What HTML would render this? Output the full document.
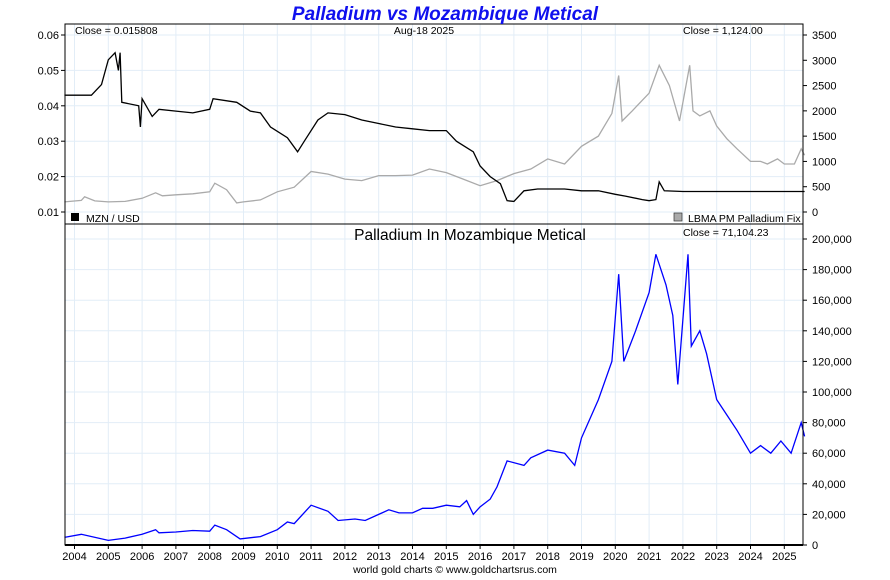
<!DOCTYPE html>
<html><head><meta charset="utf-8"><style>
body{margin:0;background:#fff;font-family:"Liberation Sans",sans-serif}
svg text{font-family:"Liberation Sans",sans-serif}
</style></head><body>
<svg id="c" width="890" height="575" xmlns="http://www.w3.org/2000/svg"></svg>
<script>
const years=[2004,2005,2006,2007,2008,2009,2010,2011,2012,2013,2014,2015,2016,2017,2018,2019,2020,2021,2022,2023,2024,2025];
const leftTicks=[0.01,0.02,0.03,0.04,0.05,0.06];
const rightTicks=[0,500,1000,1500,2000,2500,3000,3500];
const bottomTicks=[0,20000,40000,60000,80000,100000,120000,140000,160000,180000,200000];
const mznT=[2003.7,2004.5,2004.8,2005.0,2005.2,2005.3,2005.35,2005.4,2005.9,2005.95,2006.0,2006.3,2006.5,2007,2007.5,2008.0,2008.1,2008.8,2009.2,2009.5,2009.8,2010.3,2010.6,2010.8,2011.2,2011.5,2012,2012.5,2013,2013.5,2014,2014.5,2015,2015.3,2015.8,2016.0,2016.3,2016.6,2016.8,2017.0,2017.3,2017.7,2018,2018.5,2019,2019.5,2020,2020.3,2020.8,2021.0,2021.2,2021.3,2021.45,2022,2025.6];
const mznV=[0.043,0.043,0.046,0.053,0.055,0.05,0.055,0.041,0.040,0.034,0.042,0.037,0.039,0.0385,0.038,0.039,0.042,0.041,0.0385,0.038,0.034,0.031,0.027,0.030,0.036,0.038,0.0375,0.036,0.035,0.034,0.0335,0.033,0.033,0.030,0.027,0.023,0.020,0.018,0.0132,0.013,0.016,0.0165,0.0165,0.0165,0.016,0.016,0.015,0.0145,0.0135,0.0132,0.0135,0.0185,0.016,0.0158,0.0158];
const palT=[2003.7,2004.2,2004.3,2004.6,2005,2005.5,2006.0,2006.4,2006.6,2007,2007.5,2008.0,2008.15,2008.5,2008.8,2009,2009.5,2010,2010.5,2011,2011.5,2012,2012.5,2013,2013.5,2014,2014.5,2015,2015.5,2016,2016.5,2017,2017.5,2018,2018.5,2019,2019.5,2019.9,2020.1,2020.2,2020.5,2021,2021.3,2021.6,2021.9,2022.2,2022.3,2022.5,2022.8,2023.0,2023.3,2023.6,2024.0,2024.3,2024.5,2024.8,2025.0,2025.3,2025.5,2025.6];
const palV=[200,230,300,220,200,210,270,380,320,340,360,400,570,440,180,200,240,400,490,800,750,650,620,720,720,730,850,780,650,520,620,760,850,1050,950,1300,1500,1950,2700,1800,2000,2350,2900,2500,1800,2900,2000,1900,2000,1700,1450,1250,1000,1000,950,1050,950,950,1250,1124];
const pmT=[2003.7,2004.2,2005,2005.5,2006,2006.4,2006.5,2007,2007.5,2008.0,2008.15,2008.5,2008.9,2009.5,2010,2010.3,2010.5,2011.0,2011.5,2011.8,2012.3,2012.6,2013.0,2013.3,2013.6,2014.0,2014.3,2014.6,2015.0,2015.4,2015.6,2015.8,2016.0,2016.3,2016.5,2016.8,2017.3,2017.5,2018.0,2018.5,2018.8,2019.0,2019.5,2019.9,2020.1,2020.25,2020.6,2021.0,2021.2,2021.5,2021.7,2021.85,2022.15,2022.25,2022.5,2022.7,2023.0,2023.3,2023.6,2024.0,2024.3,2024.6,2024.9,2025.2,2025.5,2025.6];
const pmV=[5000,7000,3000,4500,7000,10000,8000,8500,9500,9000,13000,10000,4000,5500,10000,15000,14000,26000,22000,16000,17000,16000,20000,23000,21000,21000,24000,24000,26000,25000,29000,20000,25000,30000,38000,55000,52000,57000,62000,60000,52000,70000,95000,120000,177000,120000,140000,165000,190000,170000,150000,105000,190000,130000,140000,125000,95000,85000,75000,60000,65000,60000,68000,60000,80000,71000];

const S=document.getElementById('c'),NS='http://www.w3.org/2000/svg';
function el(t,a,txt){const e=document.createElementNS(NS,t);for(const k in a)e.setAttribute(k,a[k]);if(txt!==undefined)e.textContent=txt;S.appendChild(e);return e;}
const L=65,R=803,T1=24,B1=224,B2=545;
const X=y=>74.5+(y-2004)*33.8;
const yL=v=>35+(0.06-v)*3540;
const yR=v=>212-v*177/3500;
const yB=v=>545-v*306/200000;
let g;
years.forEach(y=>{g=el('line',{x1:X(y),x2:X(y),y1:T1,y2:B2,stroke:'#e2edf7','stroke-width':1});});
leftTicks.forEach(v=>{g=el('line',{x1:L,x2:R,y1:yL(v),y2:yL(v),stroke:'#e2edf7'});});
bottomTicks.forEach(v=>{g=el('line',{x1:L,x2:R,y1:yB(v),y2:yB(v),stroke:'#e2edf7'});});
function path(ts,vs,fx,fy,col,name){let d='';ts.forEach((t,i)=>{d+=(i?'L':'M')+fx(t).toFixed(1)+','+fy(vs[i]).toFixed(1);});const p=el('path',{d:d,fill:'none',stroke:col,'stroke-width':1.3});}
path(palT,palV,X,yR,'#aaaaaa','palladium-line');
path(mznT,mznV,X,yL,'#000','mzn-usd-line');
path(pmT,pmV,X,yB,'#0000ff','palladium-mzn-line');
g=el('rect',{x:L,y:T1,width:R-L,height:B2-T1,fill:'none',stroke:'#000','stroke-width':1});
g=el('line',{x1:L,x2:R,y1:B1,y2:B1,stroke:'#000'});
g=el('line',{x1:L,x2:R,y1:B2,y2:B2,stroke:'#000','stroke-width':2});
leftTicks.forEach(v=>{el('line',{x1:L-4,x2:L,y1:yL(v),y2:yL(v),stroke:'#000'});g=el('text',{x:59,y:yL(v)+4,'font-size':11,'text-anchor':'end'},v.toFixed(2));});
rightTicks.forEach(v=>{el('line',{x1:R,x2:R+4,y1:yR(v),y2:yR(v),stroke:'#000'});g=el('text',{x:812,y:yR(v)+4,'font-size':11},String(v));});
bottomTicks.forEach(v=>{el('line',{x1:R,x2:R+4,y1:yB(v),y2:yB(v),stroke:'#000'});g=el('text',{x:812,y:yB(v)+4,'font-size':11},v.toLocaleString('en-US'));});
years.forEach(y=>{el('line',{x1:X(y),x2:X(y),y1:B2,y2:B2+4,stroke:'#000'});g=el('text',{x:X(y),y:560,'font-size':11,'text-anchor':'middle'},String(y));});
</script>
<svg width="890" height="575" style="position:absolute;left:0;top:0" xmlns="http://www.w3.org/2000/svg">
<text x="445" y="20" font-size="19" font-weight="bold" font-style="italic" fill="#1010ee" text-anchor="middle" font-family="Liberation Sans">Palladium vs Mozambique Metical</text>
<text x="75" y="34" font-size="10.5" font-family="Liberation Sans">Close = 0.015808</text>
<text x="424" y="34" font-size="10.5" text-anchor="middle" font-family="Liberation Sans">Aug-18  2025</text>
<text x="683" y="34" font-size="10.5" font-family="Liberation Sans">Close = 1,124.00</text>
<rect x="71" y="213" width="8" height="8" fill="#000"/>
<text x="86" y="222" font-size="10.5" font-family="Liberation Sans">MZN / USD</text>
<rect x="674" y="213" width="8" height="8" fill="#aaa" stroke="#333" stroke-width="0.7"/>
<text x="688" y="222" font-size="10.5" font-family="Liberation Sans">LBMA PM Palladium Fix</text>
<text x="470" y="240" font-size="15.5" text-anchor="middle" font-family="Liberation Sans">Palladium In Mozambique Metical</text>
<text x="683" y="236" font-size="10.5" font-family="Liberation Sans">Close = 71,104.23</text>
<text x="455" y="573" font-size="10.5" text-anchor="middle" font-family="Liberation Sans">world gold charts © www.goldchartsrus.com</text>
</svg>
</body></html>
